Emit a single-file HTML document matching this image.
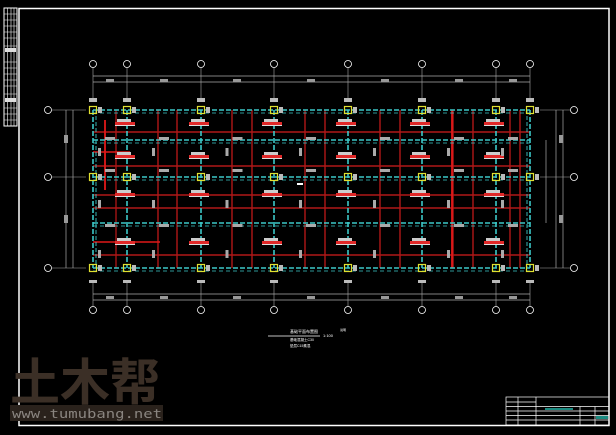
<!DOCTYPE html>
<html><head><meta charset="utf-8">
<style>
html,body{margin:0;padding:0;background:#000;width:616px;height:435px;overflow:hidden}
svg{display:block}
</style></head>
<body>
<svg id="s" width="616" height="435" viewBox="0 0 616 435" xmlns="http://www.w3.org/2000/svg">
<rect width="616" height="435" fill="#000"/>
<rect x="19" y="8.5" width="590" height="417" fill="none" stroke="#fff" stroke-width="1.5"/>
<rect x="4" y="8" width="13" height="118" fill="none" stroke="#fff" stroke-width="1"/>
<g id="g"></g>
<text x="290" y="333" font-family="Liberation Sans, Noto Sans CJK SC, sans-serif" font-size="4" fill="#fff">基础平面布置图</text>
<line x1="268" y1="336" x2="320" y2="336" stroke="#fff" stroke-width="0.8"/>
<text x="323" y="337" font-family="Liberation Sans, sans-serif" font-size="4" fill="#fff">1:100</text>
<text x="340" y="331" font-family="Liberation Sans, sans-serif" font-size="3" fill="#fff">说明</text>
<text x="290" y="341" font-family="Liberation Sans, Noto Sans CJK SC, sans-serif" font-size="3.5" fill="#fff">基础混凝土C30</text>
<text x="290" y="347" font-family="Liberation Sans, Noto Sans CJK SC, sans-serif" font-size="3.5" fill="#fff">垫层C15素混</text>
<text x="10" y="400" font-family="WenQuanYi Zen Hei, Noto Sans CJK SC, sans-serif" font-size="50" font-weight="bold" fill="#3b2f26" textLength="150" lengthAdjust="spacingAndGlyphs">土木帮</text>
<rect x="10" y="405" width="153" height="16" fill="#2a221c"/>
<text x="12" y="418" font-family="DejaVu Sans Mono, Liberation Mono, monospace" font-size="12.5" fill="#8a8580" textLength="150" lengthAdjust="spacingAndGlyphs">www.tumubang.net</text>
<g stroke="#fff" stroke-width="0.7" fill="none">
<rect x="506" y="397" width="103" height="28"/>
<line x1="506" y1="402" x2="536" y2="402"/><line x1="506" y1="406.5" x2="536" y2="406.5"/><line x1="506" y1="411" x2="609" y2="411"/>
<line x1="506" y1="415.5" x2="536" y2="415.5"/><line x1="506" y1="420" x2="609" y2="420"/>
<line x1="536" y1="406.5" x2="609" y2="406.5"/><line x1="536" y1="415.5" x2="609" y2="415.5"/>
<line x1="518" y1="397" x2="518" y2="425"/><line x1="536" y1="397" x2="536" y2="425"/>
<line x1="580" y1="406.5" x2="580" y2="425"/><line x1="595" y1="406.5" x2="595" y2="425"/>
</g>
<rect x="545" y="408" width="28" height="2" fill="#1a8a80"/>
<rect x="596" y="416" width="12" height="3" fill="#1a8a80"/>
</svg>
<script>
var g=document.getElementById('g'),NS='http://www.w3.org/2000/svg';
function el(t,a){var e=document.createElementNS(NS,t);for(var k in a)e.setAttribute(k,a[k]);g.appendChild(e);return e;}
function L(x1,y1,x2,y2,c,w,d){var a={x1:x1,y1:y1,x2:x2,y2:y2,stroke:c,'stroke-width':w};if(d)a['stroke-dasharray']=d;el('line',a);}
function R(x,y,w,h,c){el('rect',{x:x,y:y,width:w,height:h,fill:c});}
var X=[93,127,201,274,348,422,496,530],Y=[110,177,268];
[14,20,26,32,38,46,62,68,74,80,86,94,108,114,120].forEach(function(y){L(4,y,17,y,'#fff',0.5);});
L(7.5,8,7.5,126,'#fff',0.6);L(11,8,11,126,'#fff',0.6);L(14,8,14,126,'#fff',0.6);
R(5,48,11,4,'#ddd');R(5,98,11,4,'#ddd');
L(93,76,530,76,'#aaa',0.7);L(93,82,530,82,'#aaa',0.7);
L(93,294,530,294,'#aaa',0.7);L(93,300,530,300,'#aaa',0.7);
L(66,110,66,268,'#aaa',0.7);L(73,110,73,268,'#aaa',0.7);
L(556,110,556,268,'#aaa',0.7);L(563,110,563,268,'#aaa',0.7);
L(546,140,546,223,'#aaa',0.7);
X.forEach(function(x,i){L(x,68,x,98,'#aaa',0.6);L(x,280,x,306,'#aaa',0.6);
 el('circle',{cx:x,cy:64,r:3.5,fill:'none',stroke:'#fff','stroke-width':0.8});
 el('circle',{cx:x,cy:310,r:3.5,fill:'none',stroke:'#fff','stroke-width':0.8});
 R(x-4,98,8,4,'#bbb');R(x-4,280,8,3,'#bbb');});
Y.forEach(function(y){L(52,y,86,y,'#aaa',0.6);L(540,y,570,y,'#aaa',0.6);
 el('circle',{cx:48,cy:y,r:3.5,fill:'none',stroke:'#fff','stroke-width':0.8});
 el('circle',{cx:574,cy:y,r:3.5,fill:'none',stroke:'#fff','stroke-width':0.8});});
[110,164,237,311,385,459,513].forEach(function(x){R(x-4,79,8,3,'#999');R(x-4,296,8,3,'#999');});
R(64,135,4,8,'#999');R(64,215,4,8,'#999');R(559,135,4,8,'#999');R(559,215,4,8,'#999');
[132,166,195,208,255].forEach(function(y){L(93,y,530,y,'#b01818',1.4);});
[158,177,232,252,305,325,380,400,453,473,510,520].forEach(function(x){L(x,110,x,268,'#b01818',1.4);});
L(452,110,452,268,'#e01818',1.8);L(116,110,116,268,'#b01616',1.3);
L(105,120,105,190,'#e01818',1.8);L(93,242,160,242,'#e01818',1.6);L(93,152,130,152,'#e01818',1.5);
[110,140,177,223,268].forEach(function(y){L(93,y,530,y,'#3cc8c8',1.6,'5,2');L(93,y+3,530,y+3,'#3cc8c8',0.8,'4,3');});
X.forEach(function(x){L(x,110,x,268,'#3cc8c8',1.6,'5,2');});
L(96,110,96,268,'#3cc8c8',0.9,'4,2');L(527,110,527,268,'#3cc8c8',0.9,'4,2');
for(var i=1;i<7;i++){var x=X[i];
 [125,158,196,244].forEach(function(y){R(x-12,y-3,20,3,'#e02828');R(x-10,y-6,14,3,'#ccc');R(x-12,y,20,1,'#ddd');});
}
for(var i=0;i<7;i++){var xm=(X[i]+X[i+1])/2;
 R(xm-5,137,10,3,'#aaa');R(xm-5,169,10,3,'#aaa');R(xm-5,224,10,3,'#aaa');
 R(xm-12,148,3,8,'#aaa');R(xm-12,200,3,8,'#aaa');R(xm-12,250,3,8,'#aaa');
}
X.forEach(function(x){Y.forEach(function(y){
 el('rect',{x:x-3.5,y:y-3.5,width:7,height:7,fill:'none',stroke:'#e0e030','stroke-width':1.2});
 R(x+5,y-3,4,6,'#bbb');});});
R(297,183,6,2,'#fff');
</script>
</body></html>
